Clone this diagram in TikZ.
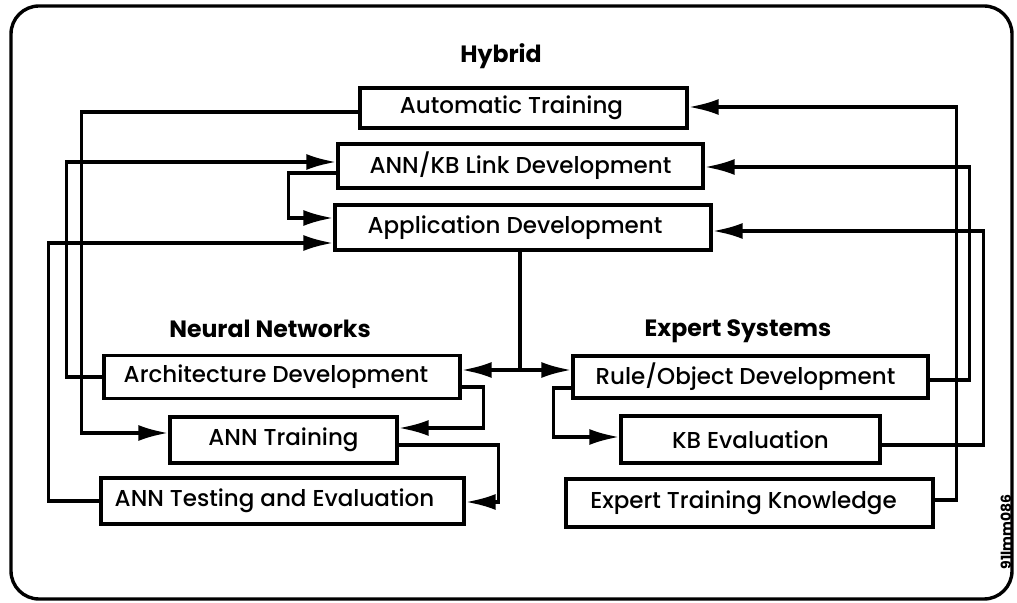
\documentclass[tikz,border=0pt]{standalone}
\usepackage{fontspec}
\setmainfont{Poppins}
\newfontfamily\boxfont{Poppins}[UprightFont={* Medium}]
\usetikzlibrary{arrows.meta}
\begin{document}
\begin{tikzpicture}[x=0.5pt,y=-0.5pt,line width=1.7pt,
    box/.style={draw,rectangle,inner sep=0pt,font=\boxfont\fontsize{11.5}{13}\selectfont},
    head/.style={font=\bfseries\fontsize{11.8}{13}\selectfont},
    >={Latex[length=15pt,width=8pt]}]
  \useasboundingbox (0,0) rectangle (1017,603);
  \draw[rounded corners=14pt] (11,6) rectangle (1012,599);

  % hybrid
  \path (501,56) node[head] (hyb) {Hybrid};
  \path (523.5,108) node[box,minimum width=163.5pt,minimum height=20pt] (autotrain) {Automatic Training\hspace*{12pt}};
  \path (520.5,166) node[box,minimum width=182.5pt,minimum height=22pt] (link) {ANN/KB Link Development};
  \path (523,227.5) node[box,minimum width=188pt,minimum height=22.5pt] (appdev) {Application Development\hspace*{8pt}};

  % neural networks
  \path (270,329) node[head] (nn) {Neural Networks};
  \path (282,377) node[box,minimum width=178pt,minimum height=21.5pt] (arch) {Architecture Development\hspace*{6pt}};
  \path (283.5,440) node[box,minimum width=113.5pt,minimum height=23pt] (anntrain) {ANN Training};
  \path (282.5,501) node[box,minimum width=181.5pt,minimum height=23pt] (anntest) {ANN Testing and Evaluation\hspace*{8pt}};

  % expert systems
  \path (738,331) node[head] (es) {Expert Systems};
  \path (750.5,377) node[box,minimum width=177.5pt,minimum height=21pt] (rule) {Rule/Object Development\hspace*{5pt}};
  \path (750.5,439.5) node[box,minimum width=129.5pt,minimum height=23.5pt] (kbeval) {KB Evaluation};
  \path (749.5,503) node[box,minimum width=183.5pt,minimum height=24pt] (expert) {Expert Training Knowledge\hspace*{6pt}};

  \path (1006,532) node[rotate=90,font=\bfseries\fontsize{7}{8}\selectfont] (code) {91lmm086};

  % left side
  \draw[->] ([yshift=-2pt]autotrain.west) -- ++(-277,0) |- ([yshift=3.5pt]anntrain.west);
  \draw[->] (arch.west) -- ++(-36,0) |- ([yshift=2pt]link.west);
  \draw[->] (anntest.west) -- ++(-51,0) |- ([yshift=-7.75pt]appdev.west);
  \draw[->] ([yshift=-3.5pt]link.west) -- ++(-48,0) |- ([yshift=4.75pt]appdev.west);

  % right side
  \draw[->] ([yshift=1.5pt]expert.east) -- ++(22,0) |- ([yshift=0.5pt]autotrain.east);
  \draw[->] ([yshift=-1.5pt]rule.east) -- ++(40,0) |- ([yshift=-0.5pt]link.east);
  \draw[->] ([yshift=-2.75pt]kbeval.east) -- ++(102,0) |- ([yshift=-1.75pt]appdev.east);

  % middle
  \draw[->] ([xshift=-1.5pt]appdev.south) |- ([yshift=3.5pt]arch.east);
  \draw[->] ([xshift=-1.5pt]appdev.south) |- ([yshift=3.5pt]rule.west);
  \draw[->] ([yshift=-5pt]arch.east) -- ++(22,0) |- ([yshift=6pt]anntrain.east);
  \draw[->] ([yshift=-2.5pt]anntrain.east) -- ++(100,0) |- ([yshift=-0.5pt]anntest.east);
  \draw[->] ([yshift=-5.5pt]rule.west) -- ++(-18,0) |- ([yshift=1.25pt]kbeval.west);
\end{tikzpicture}
\end{document}
